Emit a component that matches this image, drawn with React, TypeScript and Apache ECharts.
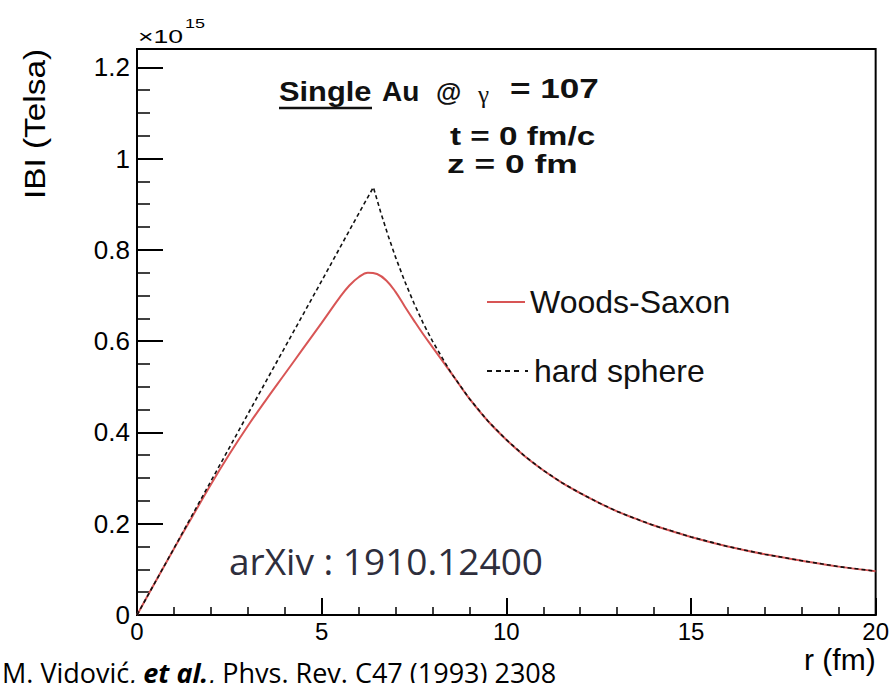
import React, { useEffect, useRef } from "react";
import * as echarts from "echarts";

// r (fm) sample points and |B| values (in units of 1e15 Tesla)
const wsR = [0, 0.5, 1, 1.5, 2, 2.5, 3, 3.5, 4, 4.5, 5, 5.5, 5.75, 6, 6.25, 6.5, 6.75, 7, 7.25, 7.5, 7.75, 8, 8.5, 9, 9.5, 10, 10.5, 11, 11.5, 12, 12.5, 13, 13.5, 14, 15, 16, 17, 18, 19, 20];
const wsB = [0, 0.073, 0.145, 0.216, 0.286, 0.352, 0.414, 0.472, 0.528, 0.584, 0.64, 0.697, 0.722, 0.74, 0.75, 0.747, 0.733, 0.708, 0.676, 0.645, 0.615, 0.587, 0.531, 0.474, 0.425, 0.384, 0.348, 0.317, 0.29, 0.267, 0.246, 0.227, 0.211, 0.196, 0.171, 0.15, 0.133, 0.119, 0.106, 0.096];

const hsR = [0, 1, 2, 3, 4, 5, 6, 6.4, 6.6, 6.8, 7, 7.25, 7.5, 7.75, 8, 8.5, 9, 9.5, 10, 10.5, 11, 11.5, 12, 12.5, 13, 13.5, 14, 15, 16, 17, 18, 19, 20];
const hsB = [0, 0.146, 0.293, 0.44, 0.586, 0.732, 0.879, 0.937, 0.882, 0.831, 0.784, 0.731, 0.683, 0.639, 0.6, 0.531, 0.474, 0.425, 0.384, 0.348, 0.317, 0.29, 0.267, 0.246, 0.227, 0.211, 0.196, 0.171, 0.15, 0.133, 0.119, 0.106, 0.096];

const seriesNames = ["Woods-Saxon", "hard sphere"];
const xTicks = [0, 5, 10, 15, 20];
const yTicks = [0, 0.2, 0.4, 0.6, 0.8, 1, 1.2];

const SANS = "'Liberation Sans', Arial, Helvetica, sans-serif";
const RED = "#d85555";

export default function App() {
  const ref = useRef<HTMLDivElement>(null);

  useEffect(() => {
    if (!ref.current) return;
    const chart = echarts.init(ref.current, null, { renderer: "svg" });
    const wsData = wsR.map((r, i) => [r, wsB[i]]);
    const hsData = hsR.map((r, i) => [r, hsB[i]]);

    const option: any = {
      animation: false,
      backgroundColor: "#ffffff",
      grid: {
        left: 137,
        right: 16,
        top: 49,
        bottom: 68,
        show: true,
        borderColor: "#000",
        borderWidth: 2,
        backgroundColor: "transparent",
      },
      xAxis: {
        type: "value",
        min: xTicks[0],
        max: xTicks[xTicks.length - 1],
        interval: 5,
        name: "r (fm)",
        nameLocation: "end",
        nameGap: 0,
        nameTextStyle: {
          fontFamily: SANS,
          fontSize: 30,
          color: "#000",
          align: "right",
          verticalAlign: "top",
          padding: [29, 0, 0, 0],
        },
        axisLine: { show: true, lineStyle: { color: "#000", width: 2 } },
        axisTick: { show: true, inside: true, length: 17, lineStyle: { color: "#000", width: 2 } },
        minorTick: { show: true, splitNumber: 5, length: 8, lineStyle: { color: "#000", width: 1.5 } },
        splitLine: { show: false },
        minorSplitLine: { show: false },
        axisLabel: {
          fontFamily: SANS,
          fontSize: 24,
          color: "#000",
          margin: 4,
          formatter: (v: number) => (xTicks.includes(v) ? String(v) : ""),
        },
      },
      yAxis: [
        {
          type: "value",
          min: 0,
          max: 1.24,
          interval: 0.2,
          axisLine: { show: true, lineStyle: { color: "#000", width: 2 } },
          axisTick: { show: true, inside: true, length: 26, lineStyle: { color: "#000", width: 2 } },
          splitLine: { show: false },
          axisLabel: {
            fontFamily: SANS,
            fontSize: 26,
            color: "#000",
            margin: 7,
            showMaxLabel: false,
            formatter: (v: number) => {
              const m = yTicks.find((t) => Math.abs(t - v) < 1e-6);
              return m === undefined ? "" : String(m);
            },
          },
        },
        {
          type: "value",
          min: 0,
          max: 1.24,
          interval: 0.05,
          position: "left",
          axisLine: { show: false },
          axisTick: { show: true, inside: true, length: 13, lineStyle: { color: "#000", width: 1.5 } },
          splitLine: { show: false },
          axisLabel: { show: false },
        },
      ],
      legend: [
        {
          data: [{ name: seriesNames[0], icon: "path://M0,0H40V2H0Z" }],
          left: 482,
          top: 281,
          itemWidth: 38,
          itemHeight: 2,
          textStyle: { fontFamily: SANS, fontSize: 32, color: "#111" },
          selectedMode: false,
        },
        {
          data: [
            {
              name: seriesNames[1],
              icon: "path://M0,0H5V2H0Z M9,0H14V2H9Z M18,0H23V2H18Z M27,0H32V2H27Z M38,0H41V2H38Z",
            },
          ],
          left: 482,
          top: 350,
          itemWidth: 43,
          itemHeight: 2,
          textStyle: { fontFamily: SANS, fontSize: 32, color: "#111" },
          selectedMode: false,
        },
      ],
      series: [
        {
          name: seriesNames[1],
          type: "line",
          data: hsData,
          xAxisIndex: 0,
          yAxisIndex: 0,
          symbol: "none",
          smooth: false,
          lineStyle: { color: "#111", width: 1.6, type: [4, 3] },
          itemStyle: { color: "#111" },
          z: 3,
        },
        {
          name: seriesNames[0],
          type: "line",
          data: wsData,
          xAxisIndex: 0,
          yAxisIndex: 0,
          symbol: "none",
          smooth: 0.4,
          lineStyle: { color: RED, width: 2 },
          itemStyle: { color: RED },
          z: 2,
        },
      ],
      graphic: [
        {
          type: "text",
          x: 35,
          y: 124,
          rotation: Math.PI / 2,
          scaleX: 1.15,
          style: {
            text: "IBI (Telsa)",
            fontFamily: SANS,
            fontSize: 29,
            fill: "#000",
            align: "center",
            verticalAlign: "middle",
          },
        },
        {
          type: "text",
          x: 138,
          y: 36,
          scaleX: 1.4,
          style: { text: "×10", fontFamily: SANS, fontSize: 19, fill: "#000", align: "left", verticalAlign: "middle" },
        },
        {
          type: "text",
          x: 185,
          y: 24,
          scaleX: 1.5,
          style: { text: "15", fontFamily: SANS, fontSize: 12, fill: "#000", align: "left", verticalAlign: "middle" },
        },
        {
          type: "text",
          x: 279,
          y: 91,
          scaleX: 1.1,
          style: { text: "Single", fontFamily: SANS, fontWeight: "bold", fontSize: 28, fill: "#111", align: "left", verticalAlign: "middle" },
        },
        {
          type: "line",
          shape: { x1: 279, y1: 108, x2: 372, y2: 108 },
          style: { stroke: "#111", lineWidth: 2.5 },
        },
        {
          type: "text",
          x: 382,
          y: 91,
          style: { text: "Au", fontFamily: SANS, fontWeight: "bold", fontSize: 28, fill: "#111", align: "left", verticalAlign: "middle" },
        },
        {
          type: "text",
          x: 436,
          y: 92,
          style: { text: "@", fontFamily: SANS, fontWeight: "bold", fontSize: 26, fill: "#111", align: "left", verticalAlign: "middle" },
        },
        {
          type: "text",
          x: 478,
          y: 94,
          style: { text: "γ", fontFamily: "'Liberation Serif', serif", fontSize: 25, fill: "#111", align: "left", verticalAlign: "middle" },
        },
        {
          type: "text",
          x: 510,
          y: 89,
          scaleX: 1.3,
          style: { text: "= 107", fontFamily: SANS, fontWeight: "bold", fontSize: 27, fill: "#111", align: "left", verticalAlign: "middle" },
        },
        {
          type: "text",
          x: 450,
          y: 136,
          scaleX: 1.28,
          style: { text: "t = 0 fm/c", fontFamily: SANS, fontWeight: "bold", fontSize: 26, fill: "#111", align: "left", verticalAlign: "middle" },
        },
        {
          type: "text",
          x: 447,
          y: 164,
          scaleX: 1.36,
          style: { text: "z = 0 fm", fontFamily: SANS, fontWeight: "bold", fontSize: 26, fill: "#111", align: "left", verticalAlign: "middle" },
        },
        {
          type: "text",
          x: 229,
          y: 560,
          style: { text: "arXiv : 1910.12400", fontFamily: "'Open Sans', sans-serif", fontSize: 37, fill: "#2e2e3c", align: "left", verticalAlign: "middle" },
        },
        {
          type: "text",
          x: 2,
          y: 672,
          style: {
            text: "{n|M. Vidović, }{i|et al.}{n|, Phys. Rev. C47 (1993) 2308}",
            align: "left",
            verticalAlign: "middle",
            rich: {
              n: { fontFamily: "'Open Sans', sans-serif", fontSize: 27, color: "#1e1e28" },
              i: { fontFamily: "'Open Sans', sans-serif", fontSize: 27, fontStyle: "italic", fontWeight: "bold", color: "#1e1e28" },
            },
          },
        },
      ],
    };
    chart.setOption(option);
    return () => chart.dispose();
  }, []);

  return (
    <div
      ref={ref}
      style={{ position: "fixed", left: 0, top: 0, width: 892, height: 683, background: "#fff" }}
    />
  );
}
